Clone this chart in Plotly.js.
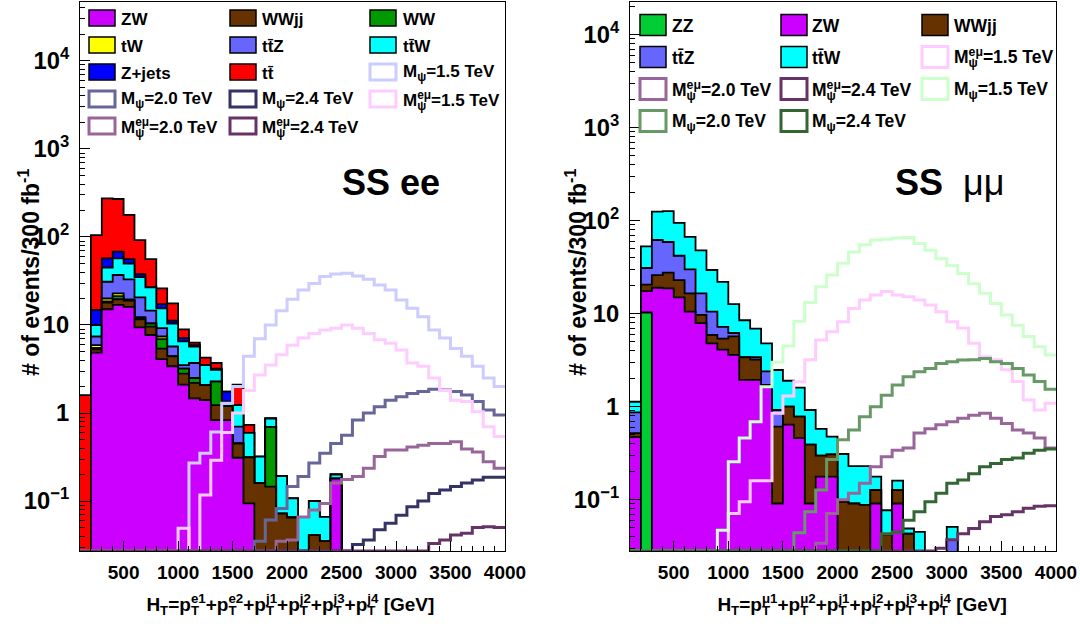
<!DOCTYPE html>
<html><head><meta charset="utf-8">
<script src="https://cdn.plot.ly/plotly-3.0.1.min.js"></script>
<style>html,body{margin:0;padding:0;background:#fff}#chart{width:1080px;height:624px}</style>
</head><body><div id="chart"></div>
<script>
// ---------- bins (lower edges, GeV) ----------
const binLow = [100,200,300,400,500,600,700,800,900,1000,1100,1200,1300,1400,1500,1600,1700,1800,1900,2000,
                2100,2200,2300,2400,2500,2600,2700,2800,2900,3000,3100,3200,3300,3400,3500,3600,3700,3800,3900];
const binHigh = 4000;

// ---------- SS ee : backgrounds (events / bin) ----------
const ee_ZW    = [0,4.85,15.1,16.9,16.1,9.4,7.7,4.1,3.4,2.1,1.47,1.4,0.83,0.83,0.31,0.094,0,0,0,0,0,0,0,0.18,0,0,0,0,0,0,0,0,0,0,0,0,0,0,0];
const ee_WWjj  = [0,0.45,2.9,2.7,2.8,2.2,1.9,1.3,1.0,0.7,0.73,0.68,0.4,0.37,0.14,0.22,0.16,0.146,0.072,0.065,0,0.041,0.035,0,0,0,0,0,0,0,0,0,0,0,0,0,0,0,0];
const ee_WW    = [0,0.2,0.5,1.7,0.3,0.4,0.8,1.5,0,0.4,0.3,0,1.04,0,0,0,0,0.55,0,0,0,0,0,0,0,0,0,0,0,0,0,0,0,0,0,0,0,0,0];
const ee_tW    = [0,0.4,1.5,1.6,0.3,0.3,0,0.5,0,0,0,0,0,0,0,0,0,0,0,0,0,0,0,0,0,0,0,0,0,0,0,0,0,0,0,0,0,0,0];
const ee_ttZ   = [0,1.5,11,14.1,13.5,8.3,4.2,1.8,1.3,0.3,1.2,0,0,0,0.25,0,0,0,0,0,0,0,0,0,0,0,0,0,0,0,0,0,0,0,0,0,0,0,0];
const ee_ttW   = [0,2.6,14,20,17,14.4,12.2,6.3,4.7,3.0,2.0,1.42,0.83,0.15,0.53,0.28,0.16,0.17,0.12,0.042,0.066,0.059,0.031,0.02,0,0,0,0,0,0,0,0,0,0,0,0,0,0,0];
const ee_Zjets = [0,4.8,12,11,6,2.7,0.2,1.8,0.8,0.6,0.2,0,0.1,0.4,0,0,0,0,0,0,0,0,0,0,0,0,0,0,0,0,0,0,0,0,0,0,0,0,0];
const ee_tt    = [1.6,90,218,202,122,54.3,29,8.7,6.4,1.8,0.4,0.75,0.5,0,0.87,0.14,0,0,0,0,0,0,0,0,0,0,0,0,0,0,0,0,0,0,0,0,0,0,0];
// ---------- SS ee : signals ----------
const ee_M15 = [0,0,0,0,0,0,0,0,0,0,0.27,0.35,0.61,1.29,2.0,4.4,7.0,10,14.5,19.6,25,29.7,35.5,38,38.7,36,33,28.5,25,19.2,15.5,12.4,8.8,7.1,5.4,4.4,3.4,2.5,2.0];
const ee_M20 = [0,0,0,0,0,0,0,0,0,0,0,0,0,0,0,0,0.035,0.061,0.082,0.146,0.19,0.27,0.35,0.45,0.56,0.83,1.0,1.18,1.4,1.53,1.67,1.75,1.86,1.83,1.75,1.6,1.35,1.08,0.95];
const ee_M24 = [0,0,0,0,0,0,0,0,0,0,0,0,0,0,0,0,0,0,0,0,0,0,0,0,0,0.032,0.036,0.047,0.056,0.069,0.086,0.10,0.122,0.133,0.146,0.16,0.173,0.186,0.186];
const ee_E15 = [0,0,0,0,0,0,0,0,0,0.049,0,0.117,0.29,0.6,1.0,1.8,2.7,3.5,4.6,5.9,7.1,8.0,8.8,9.2,10,9.2,8.0,6.8,6.2,5.2,3.7,3.4,2.5,1.8,1.4,1.35,1.03,0.70,0.54];
const ee_E20 = [0,0,0,0,0,0,0,0,0,0,0,0,0,0,0,0,0,0,0.035,0.036,0.066,0.079,0.094,0.16,0.176,0.19,0.235,0.32,0.38,0.38,0.41,0.43,0.45,0.45,0.47,0.39,0.36,0.28,0.235];
const ee_E24 = [0,0,0,0,0,0,0,0,0,0,0,0,0,0,0,0,0,0,0,0,0,0,0,0,0,0,0,0,0,0,0,0,0.033,0.036,0.041,0.043,0.05,0.051,0.05];

// ---------- SS mumu : backgrounds ----------
const mm_ZZ   = [0,10.3,0,0,0,0,0,0,0,0,0,0,0,0,0,0,0,0,0,0,0,0,0,0,0,0,0,0,0,0,0,0,0,0,0,0,0,0,0];
const mm_ZW   = [0.47,7.2,19,18.7,15,10.5,7.9,4.8,4.1,3.6,1.94,1.94,1.71,0.091,0.64,0.46,0.091,0.177,0.177,0,0,0,0.091,0,0.091,0,0,0,0,0,0,0,0,0,0,0,0,0,0];
const mm_WWjj = [0.05,3.0,7.0,8.9,8.0,6.0,1.8,1.1,1.3,2.1,1.46,1.26,0,0.52,0.36,0.32,0.30,0.12,0.13,0.095,0.091,0.088,0.036,0.042,0.036,0.043,0,0,0,0,0,0,0,0,0,0,0,0,0];
const mm_ttZ  = [0.35,10.5,36,31.4,19,13.5,6.8,4.6,1.8,0.5,0,0.2,0.69,0.31,0,0,0,0,0,0,0,0,0,0,0,0,0,0,0,0.037,0,0,0,0,0,0,0,0,0];
const mm_ttW  = [0.26,22,63,68,53,37,31.5,19,14.8,6.5,5.1,3.5,2.4,1.56,0.9,0.82,0.53,0.28,0.17,0.215,0.139,0.142,0.05,0.035,0.033,0.006,0.045,0,0,0.014,0,0,0,0,0,0,0,0,0];
// ---------- SS mumu : signals ----------
const mm_E15 = [0,0,0,0,0,0,0,0,0,0.071,0.095,0.16,0.16,0.85,1.3,1.85,3.2,5.2,6.4,8.2,11.4,14,15.9,17.3,15.9,15.2,14,12.4,10.5,8.2,7.0,4.8,3.45,3.2,2.5,1.86,1.18,0.92,1.09];
const mm_E20 = [0,0,0,0,0,0,0,0,0,0,0,0,0,0,0,0,0,0.034,0.071,0.10,0.117,0.15,0.226,0.29,0.34,0.36,0.52,0.58,0.64,0.69,0.75,0.81,0.85,0.75,0.66,0.56,0.52,0.46,0.36];
const mm_E24 = [0,0,0,0,0,0,0,0,0,0,0,0,0,0,0,0,0,0,0,0,0,0,0,0,0,0,0,0,0.030,0.037,0.043,0.049,0.058,0.066,0.069,0.074,0.081,0.085,0.086];
const mm_M15 = [0,0,0,0,0,0,0,0,0.047,0.256,0.46,0.69,1.64,3.0,4.5,8.3,13.2,19.5,26,34.8,46,55,62,63,65,66,57,48,39,33,27,21,16.6,12.9,9.7,7.5,5.7,4.4,3.6];
const mm_M20 = [0,0,0,0,0,0,0,0,0,0,0,0,0,0,0,0.044,0.074,0.127,0.27,0.44,0.56,0.78,1.0,1.33,1.71,2.1,2.38,2.58,2.92,3.05,3.18,3.2,3.3,3.05,2.92,2.58,2.19,1.86,1.54];
const mm_M24 = [0,0,0,0,0,0,0,0,0,0,0,0,0,0,0,0,0,0,0,0,0,0,0,0.043,0.045,0.06,0.074,0.095,0.117,0.15,0.163,0.19,0.226,0.245,0.27,0.28,0.315,0.34,0.35];

// ---------- labels ----------
const TT = 't\u0074\u0304';
const psi = 'M<sub>\u03c8</sub>';
const psiEM = 'M<sub>\u03c8</sub><sup>e\u03bc</sup>';
const eeBkg = [
  {name:'ZW', vals:ee_ZW, color:'#cc00ff'},
  {name:'WWjj', vals:ee_WWjj, color:'#663300'},
  {name:'WW', vals:ee_WW, color:'#009900'},
  {name:'tW', vals:ee_tW, color:'#ffff00'},
  {name:TT+'Z', vals:ee_ttZ, color:'#6666ff'},
  {name:TT+'W', vals:ee_ttW, color:'#00ffff'},
  {name:'Z+jets', vals:ee_Zjets, color:'#0000ff'},
  {name:TT, vals:ee_tt, color:'#ff0000'}
];
const eeSig = [
  {name:psi+'=1.5 TeV', vals:ee_M15, color:'#ccccff'},
  {name:psi+'=2.0 TeV', vals:ee_M20, color:'#666699'},
  {name:psi+'=2.4 TeV', vals:ee_M24, color:'#333366'},
  {name:psiEM+'=1.5 TeV', vals:ee_E15, color:'#ffccff'},
  {name:psiEM+'=2.0 TeV', vals:ee_E20, color:'#996699'},
  {name:psiEM+'=2.4 TeV', vals:ee_E24, color:'#663366'}
];
const mmBkg = [
  {name:'ZZ', vals:mm_ZZ, color:'#00cc33'},
  {name:'ZW', vals:mm_ZW, color:'#cc00ff'},
  {name:'WWjj', vals:mm_WWjj, color:'#663300'},
  {name:TT+'Z', vals:mm_ttZ, color:'#6666ff'},
  {name:TT+'W', vals:mm_ttW, color:'#00ffff'}
];
const mmSig = [
  {name:psiEM+'=1.5 TeV', vals:mm_E15, color:'#ffccff'},
  {name:psiEM+'=2.0 TeV', vals:mm_E20, color:'#996699'},
  {name:psiEM+'=2.4 TeV', vals:mm_E24, color:'#663366'},
  {name:psi+'=1.5 TeV', vals:mm_M15, color:'#ccffcc'},
  {name:psi+'=2.0 TeV', vals:mm_M20, color:'#669966'},
  {name:psi+'=2.4 TeV', vals:mm_M24, color:'#336633'}
];

// ---------- geometry / style ----------
const FONT = 'Liberation Sans, Arial, Helvetica, sans-serif';
const W = 1080, PT = 2, PB = 551;
const px = v => v / W;
const py = v => (PB - v) / (PB - PT);
const yRangeL = [-1.568, 4.67];
const yRangeR = [-1.552, 4.352];

const xEdges = binLow.concat([binHigh]);
function stepY(vals, floor) {
  const y = vals.map(v => (v > 0 ? v : floor));
  y.push(y[y.length - 1]);
  return y;
}

const traces = [];
function addPanel(bkg, sig, xa, ya, yr) {
  const cum = [];
  let run = binLow.map(() => 0);
  bkg.forEach(b => { run = run.map((r, i) => r + b.vals[i]); cum.push(run.slice()); });
  for (let k = bkg.length - 1; k >= 0; k--) {
    traces.push({x: xEdges, y: stepY(cum[k], 1e-6), xaxis: xa, yaxis: ya, type: 'scatter', mode: 'lines',
      line: {shape: 'hv', color: '#000', width: 1.8}, fill: 'tozeroy', fillcolor: bkg[k].color,
      showlegend: false, hoverinfo: 'skip'});
  }
  const floor = Math.pow(10, yr[0]);
  sig.forEach(s => {
    traces.push({x: xEdges, y: stepY(s.vals, floor), xaxis: xa, yaxis: ya, type: 'scatter', mode: 'lines',
      line: {shape: 'hv', color: s.color, width: 3}, showlegend: false, hoverinfo: 'skip'});
  });
}
addPanel(eeBkg, eeSig, 'x', 'y', yRangeL);
addPanel(mmBkg, mmSig, 'x2', 'y2', yRangeR);

const tickFont = {family: FONT, size: 19, color: '#000', weight: 'bold'};
function xAxis(dom, anchor) {
  return {domain: dom, anchor: anchor, range: [100, 4000], tick0: 0, dtick: 500, ticks: 'inside', ticklen: 10,
    tickcolor: '#000', tickwidth: 1, showline: true, mirror: true, linecolor: '#000', linewidth: 1,
    showgrid: false, zeroline: false, tickfont: tickFont, ticklabelstandoff: 4,
    minor: {dtick: 100, tick0: 0, ticks: 'inside', ticklen: 5, tickcolor: '#000', showgrid: false}};
}
function yAxis(anchor, r) {
  return {domain: [0, 1], anchor: anchor, type: 'log', range: r, dtick: 1, exponentformat: 'power',
    ticks: 'inside', ticklen: 10, tickcolor: '#000', tickwidth: 1, showline: true, mirror: true,
    linecolor: '#000', linewidth: 1, showgrid: false, zeroline: false, tickfont: tickFont, ticklabelstandoff: 6,
    minor: {dtick: 'D1', ticks: 'inside', ticklen: 5, tickcolor: '#000', showgrid: false}};
}

// ---------- legends & texts ----------
const shapes = [], annotations = [];
function legend(items, rows, cols, textX, boxW, boxH, fs) {
  items.forEach((it, i) => {
    const r = Math.floor(i / 3), c = i % 3;
    const yc = rows[r], x0 = cols[c];
    const isSig = it.sig;
    shapes.push({type: 'rect', xref: 'paper', yref: 'paper',
      x0: px(x0), x1: px(x0 + boxW), y0: py(yc + boxH / 2), y1: py(yc - boxH / 2),
      fillcolor: isSig ? '#ffffff' : it.color,
      line: {color: isSig ? it.color : '#000', width: isSig ? 3 : 1.5}});
    annotations.push({xref: 'paper', yref: 'paper', x: px(textX[c]), y: py(yc + 1), xanchor: 'left', yanchor: 'middle',
      align: 'left', text: it.name, showarrow: false, font: {family: FONT, size: fs, color: '#000', weight: 'bold'}});
  });
}
legend(eeBkg.map(b => ({name: b.name, color: b.color})).concat(eeSig.map(s => ({name: s.name, color: s.color, sig: true}))),
  [18, 45, 72, 99, 126], [89, 230, 370], [119, 260, 401], 26, 16, 17);
legend(mmBkg.map(b => ({name: b.name, color: b.color})).concat(mmSig.map(s => ({name: s.name, color: s.color, sig: true}))),
  [25, 57, 89, 121], [640, 781, 922], [670, 810, 952], 26, 21, 17.5);

const yTitleFont = {family: FONT, size: 23, color: '#000', weight: 'bold'};
const xTitleFont = {family: FONT, size: 19, color: '#000', weight: 'bold'};
annotations.push({xref: 'paper', yref: 'paper', x: px(29), y: py(273), textangle: -90, showarrow: false,
  text: '# of events/300 fb<sup>-1</sup>', font: yTitleFont, xanchor: 'center', yanchor: 'middle'});
annotations.push({xref: 'paper', yref: 'paper', x: px(576), y: py(273), textangle: -90, showarrow: false,
  text: '# of events/300 fb<sup>-1</sup>', font: yTitleFont, xanchor: 'center', yanchor: 'middle'});
const pt = s => 'p<sub>T</sub><sup>' + s + '</sup>';
annotations.push({xref: 'paper', yref: 'paper', x: px(290), y: py(604), showarrow: false, xanchor: 'center', yanchor: 'middle',
  text: 'H<sub>T</sub>=' + ['e1','e2','j1','j2','j3','j4'].map(pt).join('+') + ' [GeV]', font: xTitleFont});
annotations.push({xref: 'paper', yref: 'paper', x: px(862), y: py(604), showarrow: false, xanchor: 'center', yanchor: 'middle',
  text: 'H<sub>T</sub>=' + ['\u03bc1','\u03bc2','j1','j2','j3','j4'].map(pt).join('+') + ' [GeV]', font: xTitleFont});
annotations.push({xref: 'paper', yref: 'paper', x: px(391), y: py(182), showarrow: false, xanchor: 'center', yanchor: 'middle',
  text: 'SS ee', font: {family: FONT, size: 36, color: '#000', weight: 'bold'}});
annotations.push({xref: 'paper', yref: 'paper', x: px(950), y: py(182), showarrow: false, xanchor: 'center', yanchor: 'middle',
  text: 'SS  <span style="font-weight:normal">\u03bc\u03bc</span>', font: {family: FONT, size: 36, color: '#000', weight: 'bold'}});

const layout = {
  width: 1080, height: 624, paper_bgcolor: '#fff', plot_bgcolor: '#fff',
  margin: {l: 0, r: 0, t: PT, b: 624 - PB},
  showlegend: false,
  xaxis: xAxis([px(80), px(505)], 'y'),
  yaxis: yAxis('x', yRangeL),
  xaxis2: xAxis([px(630), px(1056)], 'y2'),
  yaxis2: yAxis('x2', yRangeR),
  shapes: shapes, annotations: annotations
};

// stack a superscript directly above the preceding subscript (ROOT-style p_T^{e1})
function dyOf(el) { return parseFloat(el.getAttribute('dy') || '0'); }
function isBlankText(n) { return n.nodeType === 3 && n.textContent.replace(/[\u200b\s]/g, '') === ''; }
function stackScripts() {
  document.querySelectorAll('#chart text.annotation-text tspan').forEach(sup => {
    if (!(dyOf(sup) < -0.4)) return;
    let n = sup.previousSibling;
    while (n && isBlankText(n)) n = n.previousSibling;
    if (!n || n.nodeType !== 1 || n.textContent.replace(/\u200b/g, '') !== '') return;
    n = n.previousSibling;
    while (n && isBlankText(n)) n = n.previousSibling;
    if (!n || n.nodeType !== 1 || !(dyOf(n) > 0.1)) return;
    const w = n.getComputedTextLength();
    sup.setAttribute('dx', (-w).toFixed(2));
  });
}
Plotly.newPlot('chart', traces, layout, {displayModeBar: false, staticPlot: true}).then(() => {
  stackScripts();
});
</script></body></html>
